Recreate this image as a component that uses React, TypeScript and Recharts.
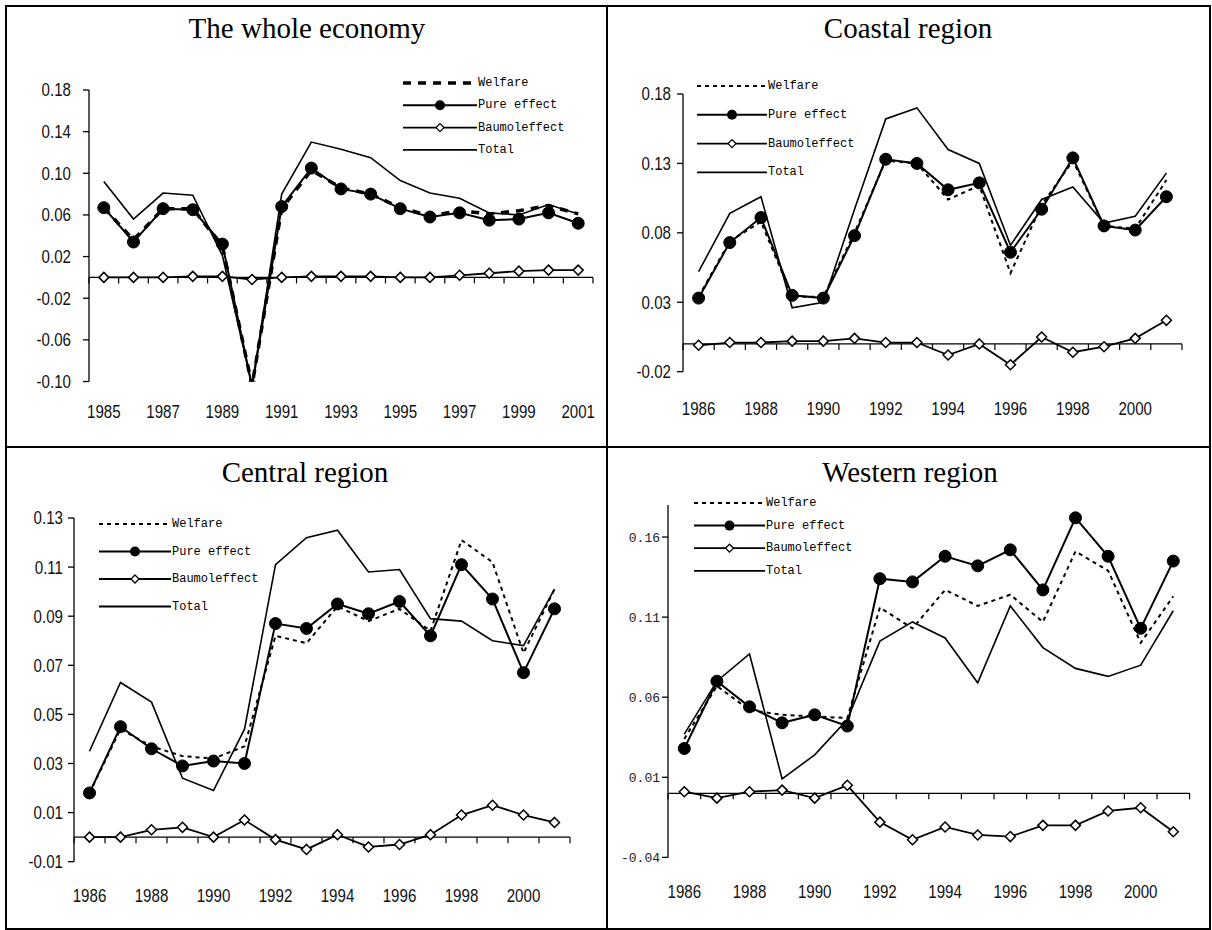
import React from 'react'
import { LineChart, Line, XAxis, YAxis, ReferenceLine, Legend } from 'recharts'

// years on the category axis
const wholeYears = [1985, 1986, 1987, 1988, 1989, 1990, 1991, 1992, 1993, 1994, 1995, 1996, 1997, 1998, 1999, 2000, 2001]
const regionYears = [1986, 1987, 1988, 1989, 1990, 1991, 1992, 1993, 1994, 1995, 1996, 1997, 1998, 1999, 2000, 2001]
const wholeXTicks = [1985, 1987, 1989, 1991, 1993, 1995, 1997, 1999, 2001]
const regionXTicks = [1986, 1988, 1990, 1992, 1994, 1996, 1998, 2000]

// y tick labels
const wholeYTicks = [-0.1, -0.06, -0.02, 0.02, 0.06, 0.1, 0.14, 0.18]
const coastalYTicks = [-0.02, 0.03, 0.08, 0.13, 0.18]
const centralYTicks = [-0.01, 0.01, 0.03, 0.05, 0.07, 0.09, 0.11, 0.13]
const westernYTicks = [-0.04, 0.01, 0.06, 0.11, 0.16]

// the whole economy
const wholeWelfare = [0.067, 0.036, 0.066, 0.066, 0.030, -0.104, 0.066, 0.103, 0.086, 0.080, 0.067, 0.059, 0.064, 0.061, 0.064, 0.069, 0.061]
const wholePure = [0.067, 0.034, 0.066, 0.065, 0.032, -0.105, 0.068, 0.105, 0.085, 0.080, 0.066, 0.058, 0.062, 0.055, 0.056, 0.062, 0.052]
const wholeBaumol = [0.000, 0.000, 0.000, 0.001, 0.001, -0.002, 0.000, 0.001, 0.001, 0.001, 0.000, 0.000, 0.002, 0.004, 0.006, 0.007, 0.007]
const wholeTotal = [0.092, 0.056, 0.081, 0.079, 0.021, -0.104, 0.080, 0.130, 0.123, 0.115, 0.093, 0.081, 0.076, 0.062, 0.060, 0.070, 0.061]

// coastal region
const coastalWelfare = [0.034, 0.074, 0.088, 0.034, 0.034, 0.080, 0.132, 0.130, 0.104, 0.114, 0.051, 0.100, 0.132, 0.085, 0.083, 0.118]
const coastalPure = [0.033, 0.073, 0.091, 0.035, 0.033, 0.078, 0.133, 0.130, 0.111, 0.116, 0.066, 0.097, 0.134, 0.085, 0.082, 0.106]
const coastalBaumol = [-0.001, 0.001, 0.001, 0.002, 0.002, 0.004, 0.001, 0.001, -0.008, 0.000, -0.015, 0.005, -0.006, -0.002, 0.004, 0.017]
const coastalTotal = [0.052, 0.094, 0.106, 0.026, 0.030, 0.097, 0.162, 0.170, 0.140, 0.130, 0.071, 0.104, 0.113, 0.087, 0.092, 0.123]

// central region
const centralWelfare = [0.018, 0.044, 0.037, 0.033, 0.032, 0.037, 0.082, 0.079, 0.094, 0.088, 0.093, 0.084, 0.121, 0.112, 0.075, 0.101]
const centralPure = [0.018, 0.045, 0.036, 0.029, 0.031, 0.030, 0.087, 0.085, 0.095, 0.091, 0.096, 0.082, 0.111, 0.097, 0.067, 0.093]
const centralBaumol = [0.000, 0.000, 0.003, 0.004, 0.000, 0.007, -0.001, -0.005, 0.001, -0.004, -0.003, 0.001, 0.009, 0.013, 0.009, 0.006]
const centralTotal = [0.035, 0.063, 0.055, 0.024, 0.019, 0.044, 0.111, 0.122, 0.125, 0.108, 0.109, 0.089, 0.088, 0.080, 0.078, 0.101]

// western region
const westernWelfare = [0.034, 0.067, 0.052, 0.049, 0.048, 0.047, 0.116, 0.103, 0.127, 0.117, 0.124, 0.107, 0.151, 0.139, 0.094, 0.123]
const westernPure = [0.028, 0.070, 0.054, 0.044, 0.049, 0.042, 0.134, 0.132, 0.148, 0.142, 0.152, 0.127, 0.172, 0.148, 0.103, 0.145]
const westernBaumol = [0.001, -0.003, 0.001, 0.002, -0.003, 0.005, -0.018, -0.029, -0.021, -0.026, -0.027, -0.020, -0.020, -0.011, -0.009, -0.024]
const westernTotal = [0.037, 0.070, 0.087, 0.009, 0.024, 0.046, 0.095, 0.107, 0.097, 0.069, 0.117, 0.091, 0.078, 0.073, 0.080, 0.114]

const seriesNames = ['Welfare', 'Pure effect', 'Baumoleffect', 'Total']

const SANS = '"Liberation Sans", Arial, sans-serif'
const MONO = '"Liberation Mono", "Courier New", monospace'
const SERIF = '"Liberation Serif", "Times New Roman", serif'

const Y_W = 60
const X_H = 50
const M_TOP = 10
const M_RIGHT = 10

// narrow looking labels: Liberation Sans squeezed horizontally
const narrowTick = (anchor: 'middle' | 'end', dy: string, fmt: (v: number) => string) => (props: any) => {
  const { x, y, payload, index } = props
  return (
    <g key={'k' + index} transform={`translate(${x},${y})`}>
      <text transform="scale(0.84,1)" textAnchor={anchor} dy={dy} fontFamily={SANS} fontSize={18} fill="#111">
        {fmt(payload.value)}
      </text>
    </g>
  )
}

const monoTick = (props: any) => {
  const { x, y, payload, index } = props
  return (
    <text key={'m' + index} x={x} y={y} textAnchor="end" dy="0.35em" fontFamily={MONO} fontSize={13} fill="#222">
      {payload.value.toFixed(2)}
    </text>
  )
}

const circleDot = (r: number) => (props: any) => {
  const { cx, cy, index } = props
  if (cx == null || cy == null) return <g key={'c' + index} />
  return <circle key={'c' + index} cx={cx} cy={cy} r={r} fill="#000" stroke="#000" />
}

const diamondDot = (s: number) => (props: any) => {
  const { cx, cy, index } = props
  if (cx == null || cy == null) return <g key={'d' + index} />
  return (
    <path
      key={'d' + index}
      d={`M${cx},${cy - s}L${cx + s},${cy}L${cx},${cy + s}L${cx - s},${cy}Z`}
      fill="#fff"
      stroke="#000"
      strokeWidth={1.5}
    />
  )
}

type PanelProps = {
  title: string
  titleX: number
  titleY: number
  years: number[]
  xTicks: number[]
  welfare: number[]
  pure: number[]
  baumol: number[]
  total: number[]
  yTicks: number[]
  yMin: number
  yMax: number
  plotLeft: number
  plotTop: number
  plotWidth: number
  plotHeight: number
  xTickMargin: number
  yTickMargin: number
  monoY?: boolean
  welfareWidth: number
  welfareDash: string
  legendX: number
  legendY: number
  lineLen: number
  rowGap: number
}

const Panel = (p: PanelProps) => {
  const data = p.years.map((y, i) => ({
    year: y,
    welfare: p.welfare[i],
    pure: p.pure[i],
    baumol: p.baumol[i],
    total: p.total[i],
  }))
  const left = p.plotLeft - Y_W
  const top = p.plotTop - M_TOP
  const width = Y_W + p.plotWidth + M_RIGHT
  const height = M_TOP + p.plotHeight + X_H
  const xMin = p.years[0] - 0.5
  const xMax = p.years[p.years.length - 1] + 0.5
  const tickLen = (6 * (p.yMax - p.yMin)) / p.plotHeight
  const bounds = [...p.years.map((y) => y - 0.5), xMax]

  const legendContent = () => (
    <svg width={p.lineLen + 140} height={p.rowGap * 3 + 20}>
      {seriesNames.map((name, i) => {
        const cy = 10 + i * p.rowGap
        const mid = p.lineLen / 2
        return (
          <g key={name}>
            {i === 0 ? (
              <line x1={0} x2={p.lineLen} y1={cy} y2={cy} stroke="#000" strokeWidth={p.welfareWidth} strokeDasharray={p.welfareDash} />
            ) : (
              <line x1={0} x2={p.lineLen} y1={cy} y2={cy} stroke="#000" strokeWidth={i === 1 ? 2 : 1.8} />
            )}
            {i === 1 && <circle cx={mid} cy={cy} r={5} fill="#000" />}
            {i === 2 && (
              <path d={`M${mid},${cy - 4}L${mid + 4},${cy}L${mid},${cy + 4}L${mid - 4},${cy}Z`} fill="#fff" stroke="#000" strokeWidth={1.3} />
            )}
            <text x={p.lineLen + 1} y={cy} dominantBaseline="central" fontFamily={MONO} fontSize={12} fill="#000">
              {name}
            </text>
          </g>
        )
      })}
    </svg>
  )

  return (
    <>
      <div
        style={{
          position: 'absolute',
          left: p.titleX - 200,
          top: p.titleY - 16,
          width: 400,
          textAlign: 'center',
          fontFamily: SERIF,
          fontSize: 29,
          lineHeight: '32px',
          color: '#000',
        }}
      >
        {p.title}
      </div>
      <div style={{ position: 'absolute', left, top }}>
        <LineChart width={width} height={height} data={data} margin={{ top: M_TOP, right: M_RIGHT, bottom: 0, left: 0 }}>
          <XAxis
            dataKey="year"
            type="number"
            domain={[xMin, xMax]}
            ticks={p.xTicks}
            interval={0}
            height={X_H}
            axisLine={false}
            tickLine={false}
            tickMargin={p.xTickMargin}
            tick={narrowTick('middle', '0.71em', (v) => String(v))}
          />
          <YAxis
            type="number"
            domain={[p.yMin, p.yMax]}
            allowDataOverflow
            ticks={p.yTicks}
            interval={0}
            width={Y_W}
            tickSize={6}
            tickMargin={p.yTickMargin}
            axisLine={{ stroke: '#000', strokeWidth: 1.3 }}
            tickLine={{ stroke: '#000', strokeWidth: 1.3 }}
            tick={p.monoY ? monoTick : narrowTick('end', '0.36em', (v) => v.toFixed(2))}
          />
          <ReferenceLine y={0} stroke="#000" strokeWidth={1.3} />
          {bounds.map((b) => (
            <ReferenceLine
              key={'t' + b}
              segment={[
                { x: b, y: 0 },
                { x: b, y: -tickLen },
              ]}
              stroke="#000"
              strokeWidth={1.2}
              ifOverflow="visible"
            />
          ))}
          <Legend
            layout="vertical"
            align="center"
            verticalAlign="middle"
            content={legendContent}
            wrapperStyle={{ left: p.legendX - left, top: p.legendY - top - 10, width: p.lineLen + 140, height: p.rowGap * 3 + 20 }}
          />
          <Line
            dataKey="total"
            name="Total"
            stroke="#000"
            strokeWidth={1.6}
            dot={false}
            activeDot={false}
            isAnimationActive={false}
            type="linear"
          />
          <Line
            dataKey="welfare"
            name="Welfare"
            stroke="#000"
            strokeWidth={p.welfareWidth}
            strokeDasharray={p.welfareDash}
            dot={false}
            activeDot={false}
            isAnimationActive={false}
            type="linear"
          />
          <Line
            dataKey="pure"
            name="Pure effect"
            stroke="#000"
            strokeWidth={2}
            dot={circleDot(6)}
            activeDot={false}
            isAnimationActive={false}
            type="linear"
          />
          <Line
            dataKey="baumol"
            name="Baumoleffect"
            stroke="#000"
            strokeWidth={1.8}
            dot={diamondDot(5)}
            activeDot={false}
            isAnimationActive={false}
            type="linear"
          />
        </LineChart>
      </div>
    </>
  )
}

export default function App() {
  return (
    <div style={{ position: 'absolute', left: 0, top: 0, width: 1212, height: 930, background: '#fff', overflow: 'hidden' }}>
      {/* frame of the 2x2 grid */}
      <div style={{ position: 'absolute', left: 5, top: 5, width: 1202, height: 921, border: '2px solid #000' }} />
      <div style={{ position: 'absolute', left: 606, top: 5, width: 2, height: 925, background: '#000' }} />
      <div style={{ position: 'absolute', left: 5, top: 446, width: 1204, height: 2, background: '#000' }} />

      <Panel
        title="The whole economy"
        titleX={307}
        titleY={28}
        years={wholeYears}
        xTicks={wholeXTicks}
        welfare={wholeWelfare}
        pure={wholePure}
        baumol={wholeBaumol}
        total={wholeTotal}
        yTicks={wholeYTicks}
        yMin={-0.1}
        yMax={0.18}
        plotLeft={89}
        plotTop={90}
        plotWidth={504}
        plotHeight={291.5}
        xTickMargin={18}
        yTickMargin={12}
        welfareWidth={3.5}
        welfareDash="8 7"
        legendX={403}
        legendY={82.7}
        lineLen={74}
        rowGap={22.3}
      />
      <Panel
        title="Coastal region"
        titleX={908}
        titleY={28}
        years={regionYears}
        xTicks={regionXTicks}
        welfare={coastalWelfare}
        pure={coastalPure}
        baumol={coastalBaumol}
        total={coastalTotal}
        yTicks={coastalYTicks}
        yMin={-0.02}
        yMax={0.18}
        plotLeft={683}
        plotTop={94}
        plotWidth={499}
        plotHeight={277.7}
        xTickMargin={25}
        yTickMargin={6}
        welfareWidth={2}
        welfareDash="4 4"
        legendX={697}
        legendY={86}
        lineLen={70}
        rowGap={28.8}
      />
      <Panel
        title="Central region"
        titleX={305}
        titleY={472}
        years={regionYears}
        xTicks={regionXTicks}
        welfare={centralWelfare}
        pure={centralPure}
        baumol={centralBaumol}
        total={centralTotal}
        yTicks={centralYTicks}
        yMin={-0.01}
        yMax={0.13}
        plotLeft={74}
        plotTop={518}
        plotWidth={496}
        plotHeight={343.7}
        xTickMargin={22}
        yTickMargin={5}
        welfareWidth={2}
        welfareDash="4 4"
        legendX={99}
        legendY={524.3}
        lineLen={72}
        rowGap={27.5}
      />
      <Panel
        title="Western region"
        titleX={910}
        titleY={472}
        years={regionYears}
        xTicks={regionXTicks}
        welfare={westernWelfare}
        pure={westernPure}
        baumol={westernBaumol}
        total={westernTotal}
        yTicks={westernYTicks}
        yMin={-0.04}
        yMax={0.18}
        plotLeft={668}
        plotTop={505.3}
        plotWidth={521.6}
        plotHeight={352.4}
        xTickMargin={22}
        yTickMargin={2}
        monoY
        welfareWidth={2}
        welfareDash="4 4"
        legendX={693.5}
        legendY={503.3}
        lineLen={71}
        rowGap={22.6}
      />
    </div>
  )
}
